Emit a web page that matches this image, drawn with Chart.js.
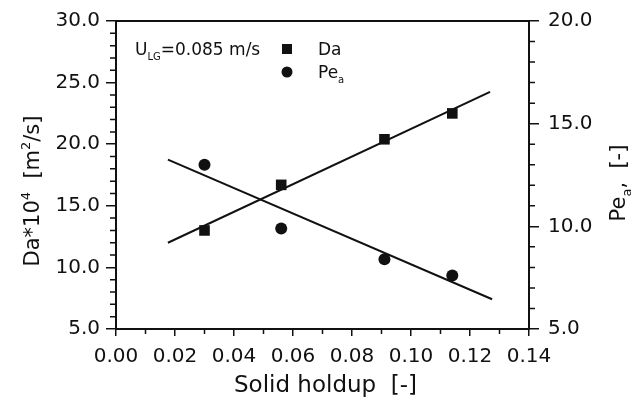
<!DOCTYPE html>
<html><head><meta charset="utf-8">
<script src="https://cdn.jsdelivr.net/npm/chart.js@4.4.1/dist/chart.umd.min.js"></script>
<style>html,body{margin:0;padding:0;background:#fff;}canvas{display:block;}</style>
</head><body>
<canvas id="c" width="631" height="402"></canvas>
<script>
// ---- data ----
const holdup   = [0.030, 0.056, 0.091, 0.114];
const daValues = [13.0, 16.7, 20.4, 22.5];
const peValues = [13.0, 9.9, 8.4, 7.6];
const daFitX = [0.0176, 0.1268];
const daFitY = [12.0, 24.25];
const peFitX = [0.0176, 0.1275];
const peFitY = [13.25, 6.45];
// ---- tick labels ----
const xTicks  = [0, 0.02, 0.04, 0.06, 0.08, 0.10, 0.12, 0.14];
const daTicks = [5, 10, 15, 20, 25, 30];
const peTicks = [5, 10, 15, 20];
const xMinor  = [0.01, 0.03, 0.05, 0.07, 0.09, 0.11, 0.13];
const daMinor = [6,7,8,9,11,12,13,14,16,17,18,19,21,22,23,24,26,27,28,29];
const peMinor = [6,7,8,9,11,12,13,14,16,17,18,19];

const INK = '#111';
const FAM = '"DejaVu Sans", sans-serif';

function richText(ctx, parts, x, y, size, align, angle) {
  ctx.save();
  ctx.translate(x, y);
  if (angle) ctx.rotate(angle);
  ctx.textBaseline = 'alphabetic';
  ctx.textAlign = 'left';
  ctx.fillStyle = INK;
  const fontFor = p => ((p.sup || p.sub) ? Math.round(size * 0.6) : size) + 'px ' + FAM;
  let total = 0;
  parts.forEach(p => { ctx.font = fontFor(p); p.w = ctx.measureText(p.t).width; total += p.w; });
  let cx = align === 'center' ? -total / 2 : 0;
  parts.forEach(p => {
    ctx.font = fontFor(p);
    const dy = p.sup ? -size * 0.45 : (p.sub ? size * 0.28 : 0);
    ctx.fillText(p.t, cx, dy);
    cx += p.w;
  });
  ctx.restore();
}

const frame = {
  id: 'frame',
  afterDraw(chart) {
    const {ctx, chartArea: a, scales} = chart;
    ctx.save();
    ctx.strokeStyle = INK;
    ctx.lineWidth = 2;
    ctx.strokeRect(a.left, a.top, a.right - a.left, a.bottom - a.top);
    ctx.lineWidth = 1.5;
    ctx.beginPath();
    xMinor.forEach(v => { const p = scales.x.getPixelForValue(v); ctx.moveTo(p, a.bottom); ctx.lineTo(p, a.bottom + 5); });
    daMinor.forEach(v => { const p = scales.y.getPixelForValue(v); ctx.moveTo(a.left, p); ctx.lineTo(a.left - 6, p); });
    peMinor.forEach(v => { const p = scales.y1.getPixelForValue(v); ctx.moveTo(a.right, p); ctx.lineTo(a.right + 6, p); });
    ctx.stroke();

    // axis titles
    richText(ctx, [{t:'Solid holdup  [-]'}], (a.left + a.right) / 2 + 3, chart.height - 10, 23, 'center', 0);
    richText(ctx, [{t:'Da*10'}, {t:'4', sup:true}, {t:'  [m'}, {t:'2', sup:true}, {t:'/s]'}], 39, 191, 21, 'center', -Math.PI / 2);
    richText(ctx, [{t:'Pe'}, {t:'a', sub:true}, {t:',  [-]'}], 625, 183, 21, 'center', -Math.PI / 2);

    // in-plot legend
    const lx = a.left + 19;
    richText(ctx, [{t:'U'}, {t:'LG', sub:true}, {t:'=0.085 m/s'}], lx, a.top + 34, 17, 'left', 0);
    const mx = a.left + 171;
    ctx.fillStyle = INK;
    ctx.fillRect(mx - 5, a.top + 28 - 5, 10, 10);
    ctx.beginPath();
    ctx.arc(mx, a.top + 51, 5.5, 0, Math.PI * 2);
    ctx.fill();
    richText(ctx, [{t:'Da'}], mx + 31, a.top + 34, 17, 'left', 0);
    richText(ctx, [{t:'Pe'}, {t:'a', sub:true}], mx + 31, a.top + 57, 17, 'left', 0);
    ctx.restore();
  }
};

const tickFont = {family: FAM, size: 20};

new Chart(document.getElementById('c'), {
  type: 'scatter',
  data: {
    datasets: [
      {label: 'Da fit', data: daFitX.map((x, i) => ({x, y: daFitY[i]})), yAxisID: 'y', showLine: true,
       pointRadius: 0, borderColor: INK, borderWidth: 2, fill: false},
      {label: 'Pe fit', data: peFitX.map((x, i) => ({x, y: peFitY[i]})), yAxisID: 'y1', showLine: true,
       pointRadius: 0, borderColor: INK, borderWidth: 2, fill: false},
      {label: 'Da', data: holdup.map((x, i) => ({x, y: daValues[i]})), yAxisID: 'y',
       pointStyle: 'rect', pointRadius: 7.5, backgroundColor: INK, borderColor: INK, borderWidth: 0},
      {label: 'Pe', data: holdup.map((x, i) => ({x, y: peValues[i]})), yAxisID: 'y1',
       pointStyle: 'circle', pointRadius: 6, backgroundColor: INK, borderColor: INK, borderWidth: 0}
    ]
  },
  options: {
    responsive: false, animation: false, devicePixelRatio: 1,
    layout: {padding: {top: 16, left: 0, right: 0, bottom: 0}},
    plugins: {legend: {display: false}, tooltip: {enabled: false}},
    scales: {
      x: {
        type: 'linear', position: 'bottom', min: 0, max: 0.14,
        afterBuildTicks: s => { s.ticks = xTicks.map(v => ({value: v})); },
        afterFit: s => { s.height = 73; },
        grid: {drawOnChartArea: false, drawTicks: true, tickLength: 7, color: INK, lineWidth: 1.5},
        border: {display: false},
        ticks: {padding: 9, color: INK, font: tickFont, maxRotation: 0, autoSkip: false,
                callback: v => Number(v).toFixed(2)}
      },
      y: {
        type: 'linear', position: 'left', min: 5, max: 30,
        afterBuildTicks: s => { s.ticks = daTicks.map(v => ({value: v})); },
        afterFit: s => { s.width = 116; },
        grid: {drawOnChartArea: false, drawTicks: true, tickLength: 10, color: INK, lineWidth: 1.5},
        border: {display: false},
        ticks: {padding: 6, color: INK, font: tickFont, autoSkip: false,
                callback: v => Number(v).toFixed(1)}
      },
      y1: {
        type: 'linear', position: 'right', min: 5, max: 20,
        afterBuildTicks: s => { s.ticks = peTicks.map(v => ({value: v})); },
        afterFit: s => { s.width = 102; },
        grid: {drawOnChartArea: false, drawTicks: true, tickLength: 10, color: INK, lineWidth: 1.5},
        border: {display: false},
        ticks: {padding: 9, color: INK, font: tickFont, autoSkip: false,
                callback: v => Number(v).toFixed(1)}
      }
    }
  },
  plugins: [frame]
});
</script>
</body></html>
